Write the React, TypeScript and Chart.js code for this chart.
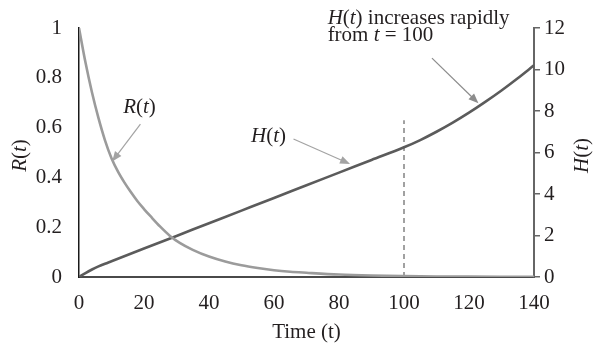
import React, { useEffect, useRef } from 'react';
import { Chart, registerables } from 'chart.js';

Chart.register(...registerables);

// ---- data ----
const rTimes = [0, 2, 4, 6, 8, 10, 12, 14, 16, 18, 20, 22, 25, 28, 31, 35, 40, 45, 50, 55, 60, 65, 70, 80, 90, 100, 110, 120, 130, 140];
const rValues = [1, 0.861, 0.741, 0.638, 0.549, 0.477, 0.423, 0.379, 0.34, 0.304, 0.273, 0.244, 0.202, 0.165, 0.137, 0.109, 0.082, 0.062, 0.047, 0.036, 0.027, 0.021, 0.017, 0.01, 0.006, 0.0037, 0.0022, 0.0014, 0.0009, 0.0006];

const hTimes = [0, 2, 4, 6, 8, 10, 20, 30, 40, 50, 60, 70, 80, 90, 100, 105, 110, 115, 120, 125, 130, 135, 140];
const hValues = [0, 0.19, 0.36, 0.51, 0.64, 0.76, 1.37, 1.98, 2.59, 3.2, 3.81, 4.42, 5.03, 5.64, 6.25, 6.6, 7.0, 7.44, 7.92, 8.44, 8.99, 9.58, 10.2];

const markerTimes = [100, 100];
const markerValues = [0, 7.55];

const xTicks = { min: 0, max: 140, step: 20 };
const rTicks = { min: 0, max: 1, step: 0.2 };
const hTicks = { min: 0, max: 12, step: 2 };

const xTitle = 'Time (t)';

// annotation anchors in data units (t, R) or (t, H)
const rLabel = { t: 18.6, r: 0.68 };
const rArrow = { from: { t: 18.9, r: 0.614 }, to: { t: 10.2, r: 0.464 } };
const hLabel = { t: 58.3, h: 6.75 };
const hArrow = { from: { t: 66, h: 6.65 }, to: { t: 83.4, h: 5.45 } };
const noteAnchor = { t: 76.5, h1: 12.48, h2: 11.66 };
const noteArrow = { from: { t: 108.6, h: 10.55 }, to: { t: 122.9, h: 8.37 } };

const FONT = '"Liberation Serif", "Times New Roman", serif';
const FS = 21;

type Part = { text: string; italic?: boolean };

function drawParts(ctx: CanvasRenderingContext2D, parts: Part[], x: number, y: number, align: 'left' | 'center', color: string) {
  ctx.save();
  ctx.fillStyle = color;
  ctx.textBaseline = 'middle';
  ctx.textAlign = 'left';
  let total = 0;
  const widths = parts.map((p) => {
    ctx.font = `${p.italic ? 'italic ' : ''}${FS}px ${FONT}`;
    const w = ctx.measureText(p.text).width;
    total += w;
    return w;
  });
  let cx = align === 'center' ? x - total / 2 : x;
  parts.forEach((p, i) => {
    ctx.font = `${p.italic ? 'italic ' : ''}${FS}px ${FONT}`;
    ctx.fillText(p.text, cx, y);
    cx += widths[i];
  });
  ctx.restore();
}

function drawArrow(ctx: CanvasRenderingContext2D, x1: number, y1: number, x2: number, y2: number, color: string) {
  const ang = Math.atan2(y2 - y1, x2 - x1);
  const head = 10;
  const half = 4;
  ctx.save();
  ctx.strokeStyle = color;
  ctx.fillStyle = color;
  ctx.lineWidth = 1.2;
  ctx.beginPath();
  ctx.moveTo(x1, y1);
  ctx.lineTo(x2 - Math.cos(ang) * head * 0.8, y2 - Math.sin(ang) * head * 0.8);
  ctx.stroke();
  ctx.beginPath();
  ctx.moveTo(x2, y2);
  ctx.lineTo(x2 - Math.cos(ang) * head - Math.sin(ang) * half, y2 - Math.sin(ang) * head + Math.cos(ang) * half);
  ctx.lineTo(x2 - Math.cos(ang) * head + Math.sin(ang) * half, y2 - Math.sin(ang) * head - Math.cos(ang) * half);
  ctx.closePath();
  ctx.fill();
  ctx.restore();
}

const annotationPlugin = {
  id: 'annotations',
  afterDraw(chart: any) {
    const { ctx, scales } = chart;
    const x = scales.x;
    const y = scales.y;
    const y2 = scales.y2;
    const area = chart.chartArea;
    const text = '#231f20';
    const arrowGray = '#a3a3a3';

    drawParts(ctx, [{ text: 'R', italic: true }, { text: '(' }, { text: 't', italic: true }, { text: ')' }],
      x.getPixelForValue(rLabel.t), y.getPixelForValue(rLabel.r), 'center', text);
    drawArrow(ctx, x.getPixelForValue(rArrow.from.t), y.getPixelForValue(rArrow.from.r),
      x.getPixelForValue(rArrow.to.t), y.getPixelForValue(rArrow.to.r), arrowGray);

    drawParts(ctx, [{ text: 'H', italic: true }, { text: '(' }, { text: 't', italic: true }, { text: ')' }],
      x.getPixelForValue(hLabel.t), y2.getPixelForValue(hLabel.h), 'center', text);
    drawArrow(ctx, x.getPixelForValue(hArrow.from.t), y2.getPixelForValue(hArrow.from.h),
      x.getPixelForValue(hArrow.to.t), y2.getPixelForValue(hArrow.to.h), arrowGray);

    const nx = x.getPixelForValue(noteAnchor.t);
    drawParts(ctx, [{ text: 'H', italic: true }, { text: '(' }, { text: 't', italic: true }, { text: ') increases rapidly' }],
      nx, y2.getPixelForValue(noteAnchor.h1), 'left', text);
    drawParts(ctx, [{ text: 'from ' }, { text: 't', italic: true }, { text: ' = 100' }],
      nx, y2.getPixelForValue(noteAnchor.h2), 'left', text);
    drawArrow(ctx, x.getPixelForValue(noteArrow.from.t), y2.getPixelForValue(noteArrow.from.h),
      x.getPixelForValue(noteArrow.to.t), y2.getPixelForValue(noteArrow.to.h), '#8c8c8c');

    const midY = (area.top + area.bottom) / 2 + 3;
    ctx.save();
    ctx.translate(20, midY);
    ctx.rotate(-Math.PI / 2);
    drawParts(ctx, [{ text: 'R', italic: true }, { text: '(' }, { text: 't', italic: true }, { text: ')' }], 0, 0, 'center', text);
    ctx.restore();
    ctx.save();
    ctx.translate(582, midY);
    ctx.rotate(-Math.PI / 2);
    drawParts(ctx, [{ text: 'H', italic: true }, { text: '(' }, { text: 't', italic: true }, { text: ')' }], 0, 0, 'center', text);
    ctx.restore();
  },
};

export default function App() {
  const canvasRef = useRef<HTMLCanvasElement | null>(null);

  useEffect(() => {
    const canvas = canvasRef.current;
    if (!canvas) return;
    const tickFont = { family: FONT, size: FS };
    const chart = new Chart(canvas, {
      type: 'line',
      data: {
        datasets: [
          {
            label: 'R(t)',
            data: rTimes.map((t, i) => ({ x: t, y: rValues[i] })),
            yAxisID: 'y',
            borderColor: '#9b9b9b',
            borderWidth: 2.6,
            pointRadius: 0,
            cubicInterpolationMode: 'monotone',
            fill: false,
          },
          {
            label: 'H(t)',
            data: hTimes.map((t, i) => ({ x: t, y: hValues[i] })),
            yAxisID: 'y2',
            borderColor: '#5b5b5b',
            borderWidth: 2.6,
            pointRadius: 0,
            cubicInterpolationMode: 'monotone',
            fill: false,
          },
          {
            label: 't = 100',
            data: markerTimes.map((t, i) => ({ x: t, y: markerValues[i] })),
            yAxisID: 'y2',
            borderColor: '#555555',
            borderWidth: 1.1,
            borderDash: [5, 4],
            pointRadius: 0,
            fill: false,
          },
        ],
      },
      options: {
        responsive: false,
        animation: false,
        devicePixelRatio: 1,
        layout: { padding: { top: 28, left: 0, right: 0, bottom: 0 } },
        plugins: {
          legend: { display: false },
          tooltip: { enabled: false },
        },
        scales: {
          x: {
            type: 'linear',
            min: xTicks.min,
            max: xTicks.max,
            ticks: { stepSize: xTicks.step, color: '#231f20', font: tickFont, padding: 6, maxRotation: 0 },
            grid: { display: false },
            border: { display: true, color: '#4a4a4a', width: 2 },
            title: { display: true, text: xTitle, color: '#231f20', font: tickFont, padding: { top: 0, bottom: -1 } },
            afterFit: (s: any) => { s.height = 67; },
          },
          y: {
            type: 'linear',
            position: 'left',
            min: rTicks.min,
            max: rTicks.max,
            ticks: {
              stepSize: rTicks.step,
              color: '#231f20',
              font: tickFont,
              padding: 9,
              callback: (v: any) => String(Math.round(Number(v) * 10) / 10),
            },
            grid: { display: false },
            border: { display: true, color: '#1a1a1a', width: 1.5 },
            afterFit: (s: any) => { s.width = 79; },
          },
          y2: {
            type: 'linear',
            position: 'right',
            min: hTicks.min,
            max: hTicks.max,
            ticks: { stepSize: hTicks.step, color: '#231f20', font: tickFont, padding: 4 },
            grid: { display: true, drawOnChartArea: false, drawTicks: true, tickLength: 6, color: '#666666', lineWidth: 1.5 },
            border: { display: true, color: '#666666', width: 2 },
            afterFit: (s: any) => { s.width = 62; },
          },
        },
      },
      plugins: [annotationPlugin],
    } as any);
    return () => chart.destroy();
  }, []);

  return (
    <div style={{ position: 'absolute', left: 0, top: 0, width: 596, height: 344, background: '#fff' }}>
      <canvas ref={canvasRef} width={596} height={344} style={{ display: 'block' }} />
    </div>
  );
}
